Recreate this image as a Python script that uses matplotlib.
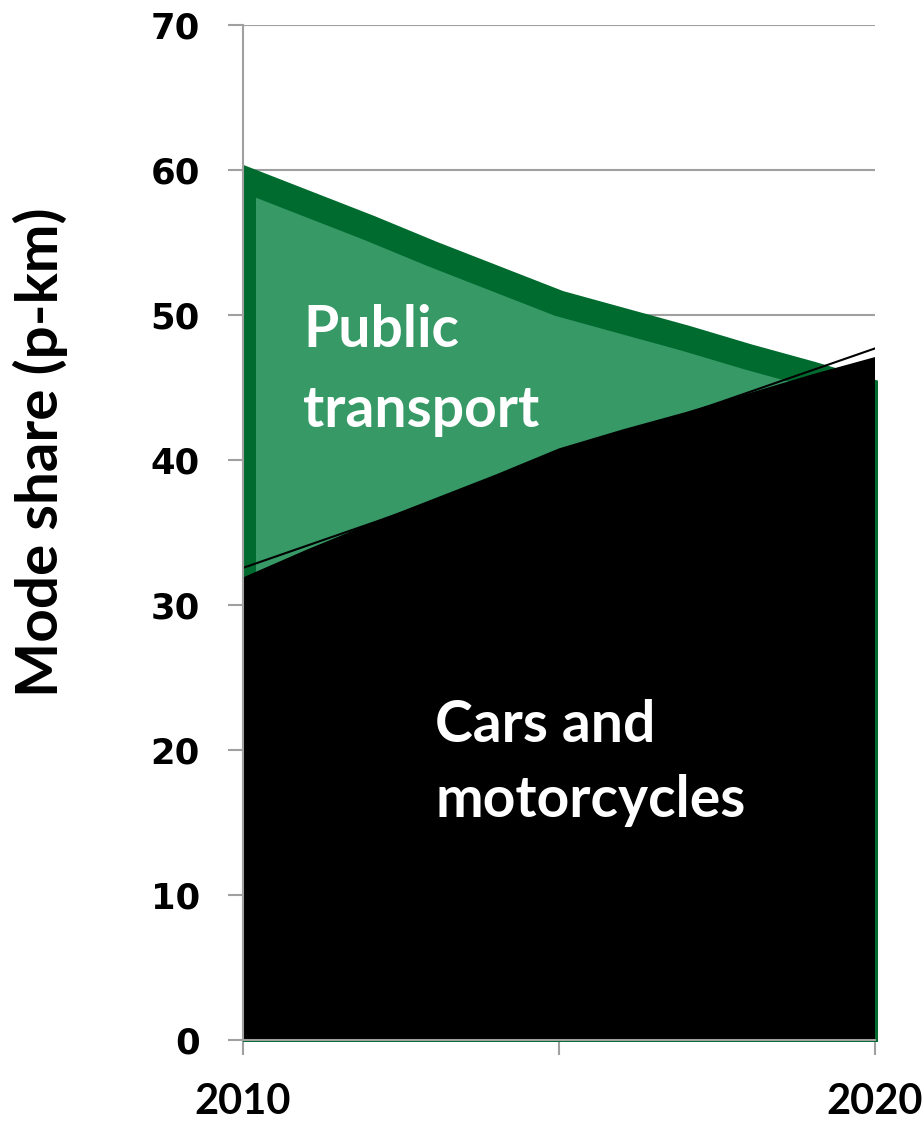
import numpy as np
import matplotlib
matplotlib.use("Agg")
import matplotlib.pyplot as plt
from matplotlib.patches import Rectangle

# ------------------------------------------------------
# Data
years = [2010, 2011, 2012, 2013, 2014, 2015, 2016, 2017, 2018, 2019, 2020]
public = [59.4, 57.7, 56.0, 54.2, 52.5, 50.8, 49.6, 48.4, 47.1, 45.9, 44.6]
cars = [31.9, 33.8, 35.6, 37.3, 39.0, 40.8, 42.1, 43.3, 44.6, 45.9, 47.1]
y_ticks = [0, 10, 20, 30, 40, 50, 60, 70]
x_ticks = [2010, 2015, 2020]
x_labels = ["2010", "", "2020"]

# ------------------------------------------------------
# Style
light_green = "#369966"
dark_green = "#006B2F"
grey = "#A0A0A0"

fig = plt.figure(figsize=(9.24, 11.22), dpi=100)
ax = fig.add_axes([243 / 924, 1 - 1040 / 1122, (875 - 243) / 924, (1040 - 25) / 1122])

# Public transport area (behind), thick dark border
poly = ax.fill([years[0]] + years + [years[-1]], [0] + public + [0],
               facecolor=light_green, edgecolor=dark_green, linewidth=18.7,
               joinstyle="miter", zorder=2)[0]
clip = Rectangle((2010, -0.15), 10.05, 70.15, transform=ax.transData)
poly.set_clip_path(clip)

# Cars and motorcycles area (front)
ax.fill_between(years, 0, cars, facecolor="black", linewidth=0, zorder=3)

# linear trend of cars
k, b = np.polyfit(years, cars, 1)
xt = np.array([years[0], years[-1]])
ax.plot(xt, k * xt + b, color="black", linewidth=1.5, zorder=4)

# ------------------------------------------------------
# Axes
ax.set_xlim(2010, 2020)
ax.set_ylim(0, 70)
ax.set_yticks(y_ticks)
ax.set_xticks(x_ticks)
ax.set_xticklabels(x_labels)
ax.yaxis.grid(True, color=grey, linewidth=1.5)
ax.set_axisbelow(True)

for s in ["top", "right"]:
    ax.spines[s].set_visible(False)
for s in ["left", "bottom"]:
    ax.spines[s].set_color(grey)
    ax.spines[s].set_linewidth(1.5)
    ax.spines[s].set_zorder(5)

ax.tick_params(axis="both", direction="out", length=11, width=1.5, color=grey)
ax.tick_params(axis="y", pad=20)
ax.tick_params(axis="x", pad=20)
for lab in ax.get_yticklabels():
    lab.set_fontfamily("DejaVu Sans")
    lab.set_fontweight("bold")
    lab.set_fontsize(25.5)
for lab in ax.get_xticklabels():
    lab.set_fontfamily("Lato")
    lab.set_fontweight("bold")
    lab.set_fontsize(30)

fig.text(40 / 924, 1 - 452 / 1122, "Mode share (p-km)", rotation=90,
         ha="center", va="center", fontsize=42, fontweight="bold", family="Lato")

# ------------------------------------------------------
# Labels in the areas
lab_kw = dict(color="white", fontsize=41, fontweight="bold", family="Lato",
              ha="left", va="baseline", zorder=6)
ax.text(2010.95, 47.8, "Public", **lab_kw)
ax.text(2010.95, 42.3, "transport", **lab_kw)
ax.text(2013.04, 20.55, "Cars and", **lab_kw)
ax.text(2013.04, 15.4, "motorcycles", **lab_kw)

fig.savefig("out.png", dpi=100)
